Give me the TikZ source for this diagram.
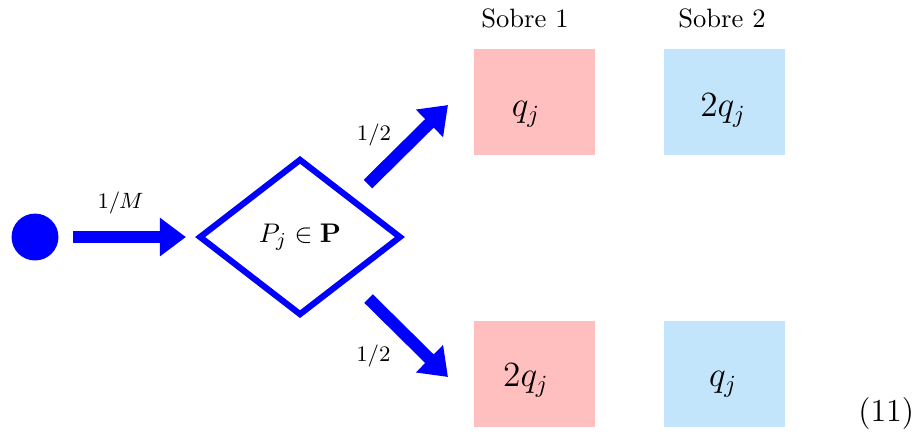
\documentclass[tikz,border=0pt]{standalone}
\usepackage{amsmath,amssymb}
\usepackage{xcolor}
\usetikzlibrary{shapes,arrows.meta,positioning,calc}

\definecolor{sobrerosa}{RGB}{255,191,191}
\definecolor{sobreazul}{RGB}{195,229,251}

\begin{document}
\begin{tikzpicture}[
    source/.style={circle, fill=blue, minimum size=0.67cm, inner sep=0pt},
    choice/.style={diamond, draw=blue, line width=2.5pt, minimum width=2.89cm, minimum height=2.24cm, inner sep=0pt, font=\fontsize{11}{13}\selectfont},
    envelope/.style={rectangle, minimum width=1.73cm, minimum height=1.51cm, inner sep=0pt},
    amount/.style={anchor=base, font=\fontsize{14}{16}\selectfont},
    head/.style={font=\fontsize{10.8}{12}\selectfont},
    prob/.style={text=black, font=\fontsize{9}{11}\selectfont},
    arrow/.style={-{Triangle[length=10.6pt, width=15pt]}, line width=4.9pt, blue}
]
    \useasboundingbox (0,0) rectangle (13.1,-6.243);

    \node[source] (start) at (0.5,-3.386) {};
    \node[choice] (pick) at (4.286,-3.386) {$P_j \in \mathbf{P}$};

    % envelopes
    \node[envelope, fill=sobrerosa] (e1a) at (7.636,-1.457) {};
    \node[envelope, fill=sobreazul, right=0.971cm of e1a] (e2a) {};
    \node[envelope, fill=sobrerosa] (e1b) at (7.636,-5.343) {};
    \node[envelope, fill=sobreazul, right=0.971cm of e1b] (e2b) {};

    \node[head] (h1) at (7.5,-0.257) {Sobre 1};
    \node[head] (h2) at (10.314,-0.257) {Sobre 2};

    \node[amount] (v1a) at (7.514,-1.667) {$q_j$};
    \node[amount] (v2a) at (10.33,-1.667) {$2q_j$};
    \node[amount] (v1b) at (7.514,-5.526) {$2q_j$};
    \node[amount] (v2b) at (10.33,-5.526) {$q_j$};

    \node[font=\fontsize{13}{15}\selectfont] (eqn) at (12.66,-5.914) {(11)};

    \coordinate (upA) at ($(pick)+(0.971,0.757)$);
    \coordinate (upB) at ($(pick)+(2.114,1.886)$);
    \coordinate (dnA) at ($(pick)+(0.979,-0.879)$);
    \coordinate (dnB) at ($(pick)+(2.114,-2.0)$);

    \draw[arrow, shorten <=0.207cm, shorten >=0.14cm] (start) -- node[prob, pos=0.45, above=3.7pt] (pm) {$1/M$} (pick);
    \draw[arrow] (upA) -- node[prob, pos=0.38, above left, xshift=2.8pt, yshift=-2.4pt] (pu) {$1/2$} (upB);
    \draw[arrow] (dnA) -- node[prob, pos=0.43, below left, xshift=0.8pt, yshift=0.8pt] (pd) {$1/2$} (dnB);
\end{tikzpicture}
\end{document}
